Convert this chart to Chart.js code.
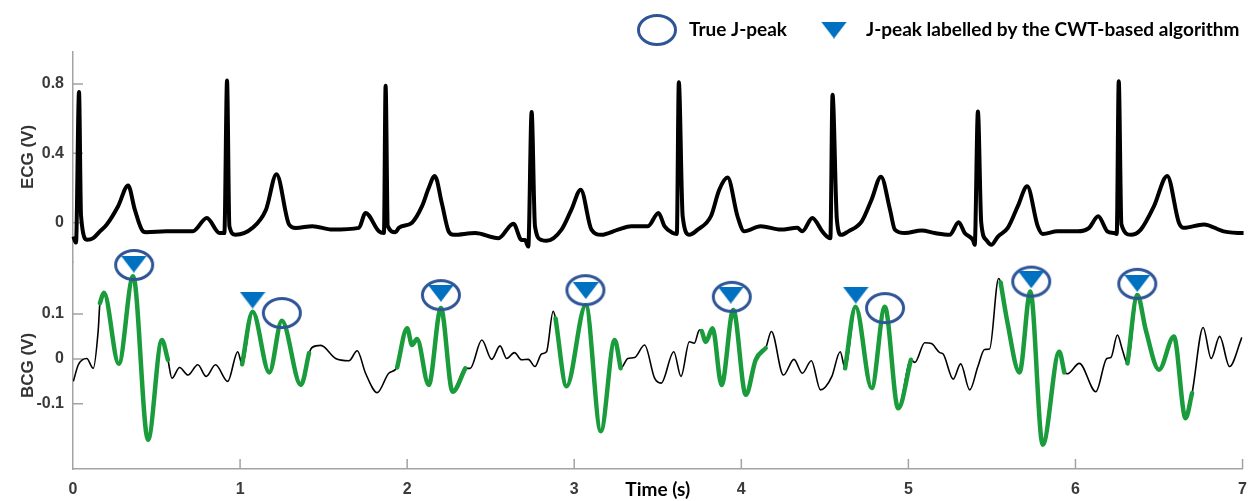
<!DOCTYPE html>
<html>
<head>
<meta charset="utf-8">
<title>ECG and BCG with J-peaks</title>
<script src="https://cdn.jsdelivr.net/npm/chart.js@4.4.0/dist/chart.umd.min.js"></script>
<style>
  html, body { margin: 0; padding: 0; background: #fff; }
  #wrap { width: 1258px; height: 501px; }
</style>
</head>
<body>
<div id="wrap"><canvas id="chart"></canvas></div>
<script>
// values (time in s, amplitude in V)
const ecgTime = [0.002, 0.018, 0.036, 0.048, 0.085, 0.121, 0.161, 0.201, 0.270, 0.330, 0.370, 0.419, 0.439, 0.559, 0.717,
  0.801, 0.877, 0.906, 0.922, 0.936, 0.972, 1.075, 1.155, 1.218, 1.294, 1.334, 1.433, 1.552, 1.711, 1.751, 1.831,
  1.861, 1.871, 1.884, 1.930, 1.950, 2.029, 2.089, 2.129, 2.165, 2.208, 2.248, 2.278, 2.407, 2.546, 2.636, 2.685,
  2.705, 2.725, 2.745, 2.765, 2.804, 2.834, 2.924, 2.983, 3.039, 3.103, 3.162, 3.262, 3.341, 3.441, 3.504, 3.540,
  3.590, 3.614, 3.626, 3.649, 3.689, 3.739, 3.818, 3.868, 3.918, 3.977, 4.017, 4.116, 4.236, 4.335, 4.365, 4.425,
  4.484, 4.512, 4.533, 4.546, 4.572, 4.598, 4.641, 4.721, 4.780, 4.836, 4.890, 4.919, 4.979, 5.079, 5.158, 5.247,
  5.301, 5.337, 5.386, 5.397, 5.416, 5.436, 5.466, 5.496, 5.536, 5.595, 5.655, 5.711, 5.774, 5.804, 5.893, 6.013,
  6.082, 6.136, 6.191, 6.231, 6.247, 6.259, 6.275, 6.331, 6.391, 6.470, 6.549, 6.619, 6.649, 6.768, 6.887, 7.006, 7.036];
const ecgValue = [-0.08, -0.115, 0.754, 0.04, -0.099, -0.089, -0.05, -0.012, 0.095, 0.215, 0.075, -0.05, -0.055, -0.05, -0.05,
  0.027, -0.06, -0.06, 0.82, -0.02, -0.07, -0.03, 0.075, 0.28, -0.012, -0.031, -0.02, -0.04, -0.03, 0.056, -0.05,
  -0.06, 0.79, -0.02, -0.055, -0.03, 0, 0.095, 0.2, 0.27, 0.11, -0.05, -0.07, -0.06, -0.09, -0.006, -0.1,
  -0.1, -0.138, 0.638, -0.02, -0.1, -0.105, -0.04, 0.075, 0.19, -0.04, -0.07, -0.04, -0.02, -0.02, 0.056, -0.02,
  -0.06, -0.065, 0.81, 0.037, -0.07, -0.04, 0.037, 0.19, 0.26, 0.037, -0.05, -0.02, -0.04, -0.03, -0.05, 0.027,
  -0.05, -0.08, -0.09, 0.738, 0.017, -0.07, -0.05, 0.008, 0.134, 0.265, 0.075, -0.04, -0.06, -0.045, -0.06, -0.07,
  0.002, -0.06, -0.1, -0.128, 0.641, 0, -0.1, -0.128, -0.08, -0.03, 0.095, 0.21, -0.02, -0.065, -0.05, -0.05,
  -0.03, 0.037, -0.05, -0.06, -0.065, 0.816, -0.01, -0.07, -0.04, 0.095, 0.27, 0, -0.03, -0.01, -0.05, -0.06, -0.03];

const bcgTime = [0.002, 0.032, 0.082, 0.121, 0.151, 0.161, 0.185, 0.274, 0.360, 0.449, 0.532, 0.568, 0.592, 0.638, 0.688,
  0.747, 0.797, 0.853, 0.926, 0.986, 1.012, 1.075, 1.175, 1.250, 1.364, 1.413, 1.433, 1.483, 1.572, 1.652, 1.701,
  1.751, 1.821, 1.890, 1.940, 2.000, 2.029, 2.059, 2.129, 2.202, 2.272, 2.348, 2.377, 2.447, 2.506, 2.556, 2.596,
  2.642, 2.685, 2.725, 2.765, 2.804, 2.834, 2.874, 2.888, 2.954, 3.069, 3.159, 3.242, 3.278, 3.321, 3.361, 3.421,
  3.481, 3.520, 3.596, 3.639, 3.689, 3.719, 3.749, 3.763, 3.788, 3.828, 3.882, 3.952, 4.027, 4.086, 4.146, 4.180,
  4.252, 4.315, 4.365, 4.419, 4.474, 4.502, 4.542, 4.592, 4.621, 4.684, 4.780, 4.859, 4.939, 5.015, 5.039, 5.098,
  5.138, 5.188, 5.208, 5.268, 5.313, 5.367, 5.416, 5.456, 5.486, 5.540, 5.552, 5.592, 5.665, 5.730, 5.804, 5.903,
  5.933, 5.953, 6.023, 6.122, 6.188, 6.212, 6.251, 6.281, 6.311, 6.371, 6.421, 6.500, 6.589, 6.659, 6.698, 6.764,
  6.812, 6.863, 6.922, 6.996];
const bcgValue = [-0.05, -0.013, 0.001, -0.021, 0.064, 0.124, 0.147, -0.011, 0.184, -0.18, 0.042, -0.002, -0.043, -0.019, -0.036,
  -0.013, -0.039, -0.013, -0.05, 0.016, -0.012, 0.105, -0.03, 0.085, -0.058, 0.013, 0.026, 0.03, 0.001, -0.004, 0.018,
  -0.032, -0.075, -0.032, -0.019, 0.068, 0.031, 0.044, -0.058, 0.113, -0.073, -0.021, -0.021, 0.042, -0.001, 0.029, 0.001,
  0.014, -0.002, -0.001, -0.017, 0.011, 0.016, 0.106, 0.09, -0.061, 0.12, -0.161, 0.042, -0.021, 0.001, 0.003, 0.031,
  -0.043, -0.054, 0.016, -0.039, 0.038, 0.035, 0.064, 0.062, 0.038, 0.068, -0.058, 0.109, -0.08, -0.002, 0.024, 0.061,
  -0.036, -0.001, -0.032, -0.004, -0.069, -0.063, -0.039, 0.016, -0.021, 0.116, -0.065, 0.116, -0.11, -0.002, -0.008, 0.036,
  0.034, 0.014, 0.011, -0.045, -0.011, -0.069, -0.017, 0.021, 0.022, 0.179, 0.17, 0.083, -0.03, 0.15, -0.191, 0.016,
  -0.03, -0.033, -0.01, -0.073, 0.001, 0.003, 0.053, 0.02, -0.01, 0.142, 0.064, -0.024, 0.05, -0.132, -0.076, 0.07,
  0.001, 0.05, -0.017, 0.048];

// heartbeat windows drawn in green: [start, end] in s
const beatStart = [0.161, 1.012, 1.940, 2.888, 3.763, 4.621, 5.552, 6.311];
const beatEnd = [0.568, 1.413, 2.348, 3.278, 4.146, 5.015, 5.933, 6.698];

// true J-peaks (circles) and CWT-labelled J-peaks (triangles)
const trueTime = [0.366, 1.250, 2.202, 3.067, 3.943, 4.860, 5.735, 6.370];
const trueValue = [0.209, 0.102, 0.142, 0.153, 0.138, 0.113, 0.172, 0.167];
const cwtTime = [0.364, 1.075, 2.202, 3.069, 3.937, 4.685, 5.735, 6.370];
const cwtValue = [0.211, 0.131, 0.146, 0.152, 0.142, 0.142, 0.176, 0.168];

const xTicks = [0, 1, 2, 3, 4, 5, 6, 7];
const ecgTicks = [0, 0.4, 0.8];
const ecgTickLabels = ['0', '0.4', '0.8'];
const bcgTicks = [-0.1, 0, 0.1];
const bcgTickLabels = ['-0.1', '0', '0.1'];
const legendLabels = ['True J-peak', 'J-peak labelled by the CWT-based algorithm'];

const axisGrey = '#a3a3a3';
const tickColor = '#3a3a3a';
const green = '#1a9c3c';
const navy = '#2f5597';
const blue = '#0070c0';

// marker shapes
function makeEllipse() {
  const c = document.createElement('canvas');
  c.width = 42; c.height = 34;
  const g = c.getContext('2d');
  g.strokeStyle = navy;
  g.lineWidth = 3;
  g.beginPath();
  g.ellipse(21, 17, 18.5, 14.5, 0, 0, Math.PI * 2);
  g.stroke();
  return c;
}
function makeTriangle() {
  const c = document.createElement('canvas');
  c.width = 26; c.height = 17;
  const g = c.getContext('2d');
  g.fillStyle = blue;
  g.beginPath();
  g.moveTo(0, 0); g.lineTo(26, 0); g.lineTo(13, 17);
  g.closePath();
  g.fill();
  return c;
}
const ellipseMark = makeEllipse();
const triMark = makeTriangle();

const pts = (ts, vs) => ts.map((t, i) => ({ x: t, y: vs[i] }));
const bcgPoints = pts(bcgTime, bcgValue);

const greenSets = beatStart.map((s, k) => ({
  label: 'beat ' + (k + 1),
  data: bcgPoints.filter(p => p.x >= s - 1e-6 && p.x <= beatEnd[k] + 1e-6),
  yAxisID: 'yB',
  order: 3,
  borderColor: green,
  borderWidth: 4.5,
  borderCapStyle: 'round',
  pointRadius: 0,
  cubicInterpolationMode: 'monotone'
}));

const tickFont = { family: 'Liberation Sans', weight: 'bold', size: 16 };
const yTitleFont = { family: 'Liberation Sans', weight: 'bold', size: 17 };

// small tick marks that point into the plot
const inwardTicks = {
  id: 'inwardTicks',
  beforeDatasetsDraw(chart) {
    const { ctx, scales } = chart;
    ctx.save();
    ctx.strokeStyle = axisGrey;
    ctx.lineWidth = 1.5;
    ctx.beginPath();
    xTicks.forEach(v => {
      if (v === 0) return;
      const px = scales.x.getPixelForValue(v);
      ctx.moveTo(px, scales.x.top);
      ctx.lineTo(px, scales.x.top - 10);
    });
    [[scales.yE, ecgTicks], [scales.yB, bcgTicks]].forEach(([s, list]) => {
      list.forEach(v => {
        const py = s.getPixelForValue(v);
        ctx.moveTo(s.right, py);
        ctx.lineTo(s.right + 10, py);
      });
    });
    ctx.stroke();
    ctx.restore();
  }
};

// legend sits a bit further right and higher than Chart.js would put it
const legendShift = {
  id: 'legendShift',
  afterLayout(chart) {
    const lg = chart.legend;
    lg.left += 17;
    lg.right += 17;
    lg.top -= 4;
    lg.bottom -= 4;
  }
};

new Chart(document.getElementById('chart'), {
  type: 'line',
  data: {
    datasets: [
      {
        label: 'ECG',
        data: pts(ecgTime, ecgValue),
        yAxisID: 'yE',
        order: 5,
        borderColor: '#000',
        borderWidth: 4,
        pointRadius: 0,
        cubicInterpolationMode: 'monotone',
        clip: false
      },
      {
        label: 'BCG',
        data: bcgPoints,
        yAxisID: 'yB',
        order: 4,
        borderColor: '#000',
        borderWidth: 1.6,
        pointRadius: 0,
        cubicInterpolationMode: 'monotone'
      },
      ...greenSets,
      {
        type: 'scatter',
        label: legendLabels[0],
        data: pts(trueTime, trueValue),
        yAxisID: 'yB',
        order: 2,
        pointStyle: ellipseMark,
        pointRadius: 10,
        clip: false
      },
      {
        type: 'scatter',
        label: legendLabels[1],
        data: pts(cwtTime, cwtValue),
        yAxisID: 'yB',
        order: 1,
        pointStyle: triMark,
        pointRadius: 10,
        clip: false
      }
    ]
  },
  options: {
    responsive: true,
    maintainAspectRatio: false,
    animation: false,
    devicePixelRatio: 1,
    events: [],
    layout: { padding: { top: 0, right: 11, bottom: 0, left: 0 } },
    plugins: {
      tooltip: { enabled: false },
      legend: {
        position: 'top',
        align: 'end',
        maxHeight: 52,
        onClick: null,
        labels: {
          usePointStyle: true,
          pointStyleWidth: 45,
          padding: 24.5,
          color: '#000',
          font: { family: 'Lato', weight: 'bold', size: 19 },
          generateLabels: () => [
            { text: legendLabels[0], pointStyle: ellipseMark, fillStyle: 'rgba(0,0,0,0)', strokeStyle: navy, lineWidth: 0, hidden: false },
            { text: legendLabels[1], pointStyle: triMark, fillStyle: blue, strokeStyle: blue, lineWidth: 0, hidden: false }
          ]
        }
      }
    },
    scales: {
      x: {
        type: 'linear',
        min: 0,
        max: 7,
        afterFit: s => { s.height = 32; },
        afterBuildTicks: s => { s.ticks = xTicks.map(v => ({ value: v })); },
        ticks: { font: tickFont, color: tickColor, padding: 11, maxRotation: 0, callback: v => String(v) },
        grid: { display: false, drawTicks: false },
        border: { display: true, color: axisGrey, width: 1.5 },
        title: {
          display: true,
          text: 'Time (s)',
          color: '#000',
          font: { family: 'Lato', weight: 'bold', size: 19 },
          padding: { top: 0, bottom: 0 }
        }
      },
      // the later left axis of a stack is placed on top, so BCG comes first here
      yB: {
        type: 'linear',
        position: 'left',
        stack: 'panels',
        stackWeight: 207,
        min: -0.245,
        max: 0.2156,
        afterFit: s => { s.width = 73; },
        afterBuildTicks: s => { s.ticks = bcgTicks.map(v => ({ value: v })); },
        ticks: { font: tickFont, color: tickColor, padding: 9, callback: (v, i) => bcgTickLabels[i] },
        grid: { display: false, drawTicks: false },
        border: { display: true, color: axisGrey, width: 1.5 },
        title: { display: true, text: 'BCG (V)', color: '#333', font: yTitleFont, padding: { top: 18, bottom: 0 } }
      },
      yE: {
        type: 'linear',
        position: 'left',
        stack: 'panels',
        stackWeight: 210,
        min: -0.227,
        max: 0.985,
        afterFit: s => { s.width = 73; },
        afterBuildTicks: s => { s.ticks = ecgTicks.map(v => ({ value: v })); },
        ticks: { font: tickFont, color: tickColor, padding: 9, callback: (v, i) => ecgTickLabels[i] },
        grid: { display: false, drawTicks: false },
        border: { display: true, color: axisGrey, width: 1.5 },
        title: { display: true, text: 'ECG (V)', color: '#333', font: yTitleFont, padding: { top: 18, bottom: 0 } }
      }
    }
  },
  plugins: [inwardTicks, legendShift]
});
</script>
</body>
</html>
